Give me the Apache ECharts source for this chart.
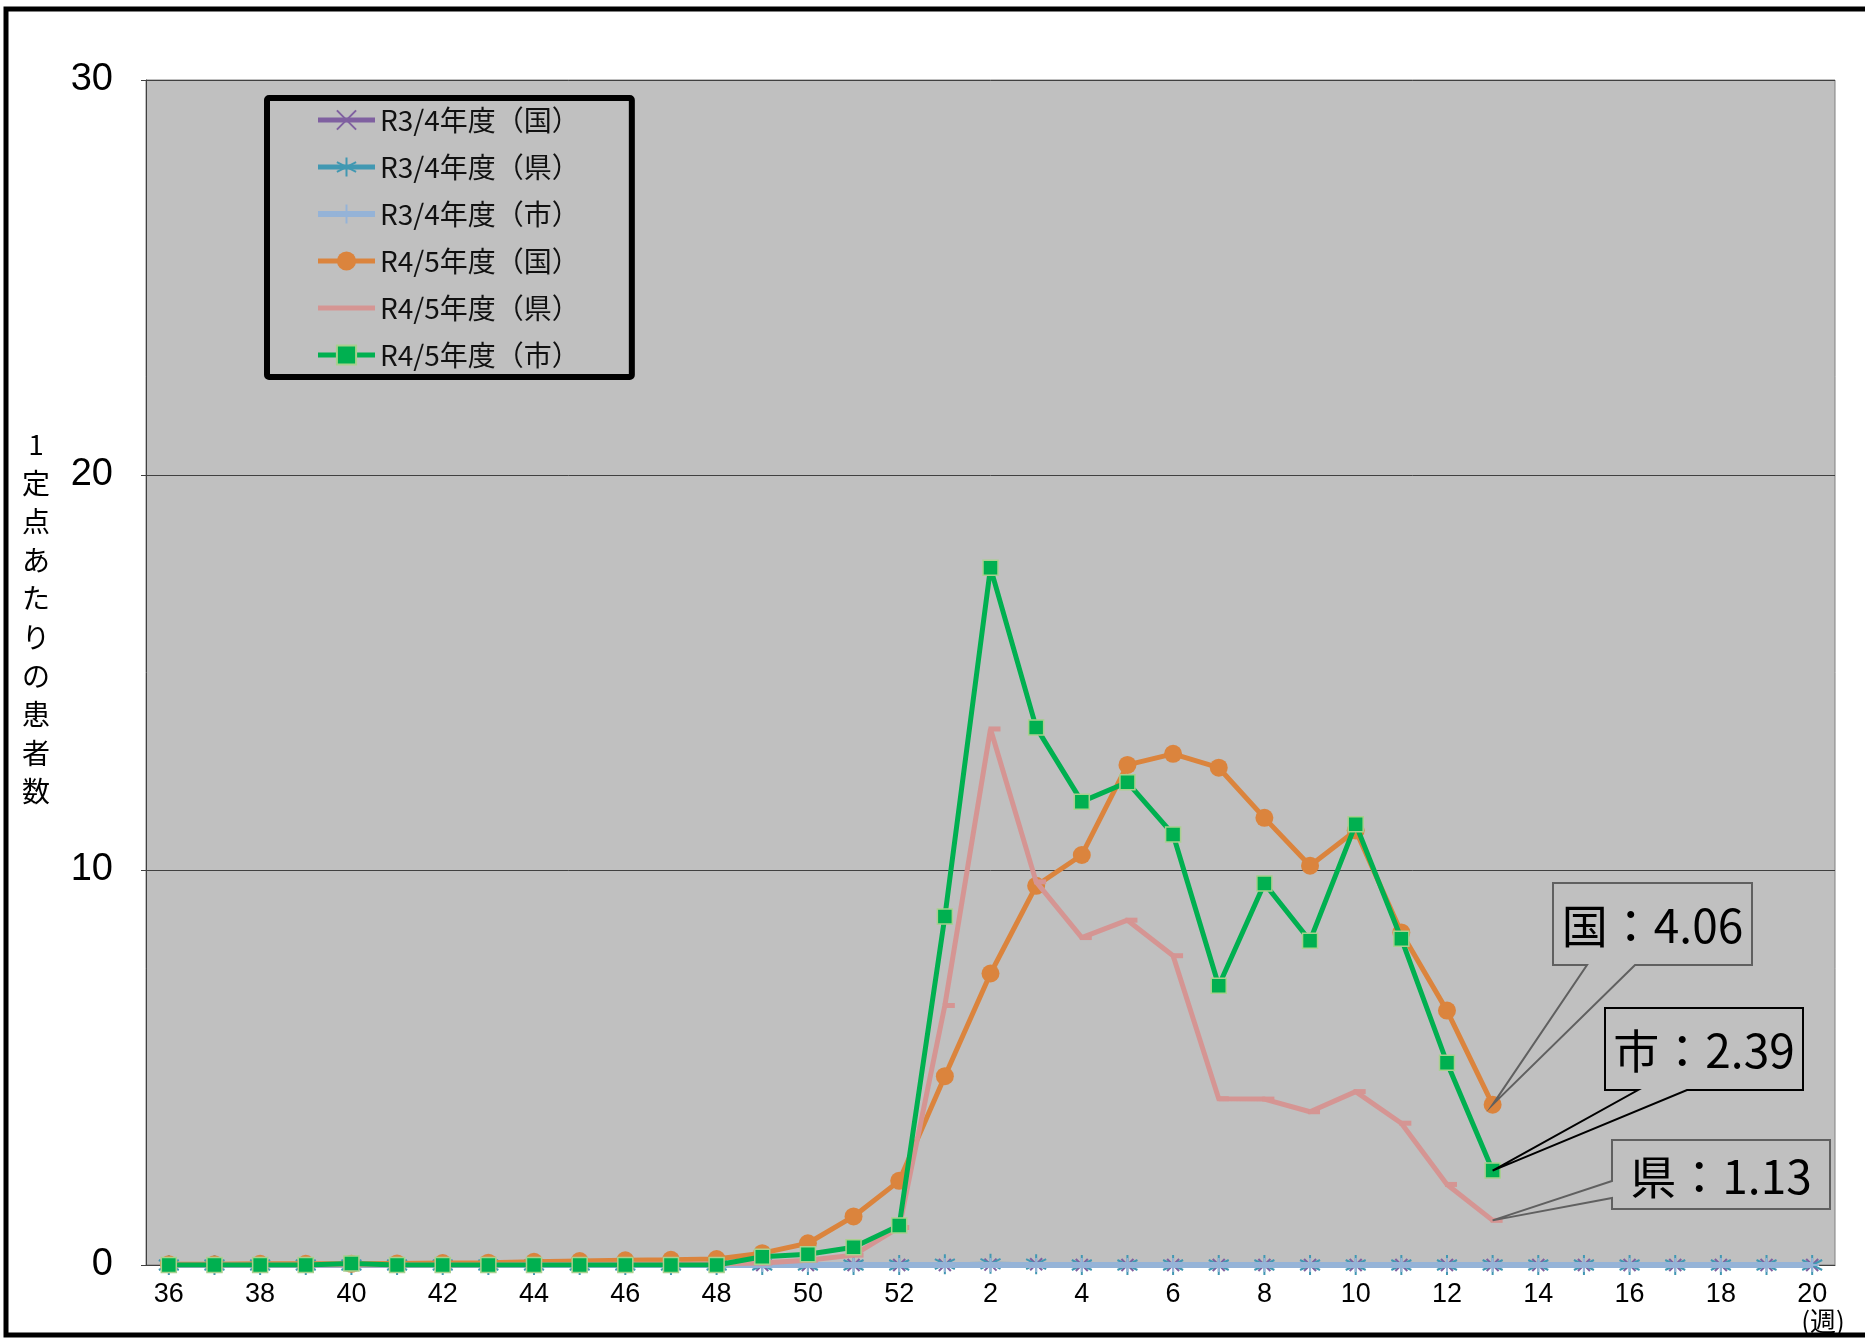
<!DOCTYPE html>
<html>
<head>
<meta charset="utf-8">
<script src="https://cdn.jsdelivr.net/npm/echarts@6/dist/echarts.min.js"></script>
<style>
html,body{margin:0;padding:0;background:#fff;}
#main{width:1865px;height:1338px;}
</style>
</head>
<body>
<div id="main"></div>
<script>
// 週 (36週〜翌年20週)
var weeks = ['36','37','38','39','40','41','42','43','44','45','46','47','48','49','50','51','52',
  '1','2','3','4','5','6','7','8','9','10','11','12','13','14','15','16','17','18','19','20'];

// R3/4年度: ほぼ 0
var national34 = [0,0,0,0,0,0,0,0,0,0,0,0,0,0,0,0,0, 0,0.01,0.02,0,0,0,0,0,0,0,0,0,0,0,0,0,0,0,0,0];
var pref34     = [0,0,0,0,0,0,0,0,0,0,0,0,0,0,0,0,0, 0.02,0.03,0.02,0,0,0,0,0,0,0,0,0,0,0,0,0,0,0,0,0];
var city34     = [0,0,0,0,0,0,0,0,0,0,0,0,0,0,0,0,0, 0,0,0,0,0,0,0,0,0,0,0,0,0,0,0,0,0,0,0,0];

// R4/5年度 (13週まで)
var national45 = [0.02,0.02,0.03,0.03,0.03,0.04,0.05,0.06,0.08,0.10,0.12,0.13,0.15,0.30,0.55,1.23,2.13,
  4.78,7.38,9.60,10.38,12.66,12.94,12.59,11.32,10.11,11.00,8.42,6.44,4.06,
  null,null,null,null,null,null,null];
var pref45 = [0,0,0,0,0,0,0,0,0.01,0.01,0.02,0.02,0.03,0.05,0.12,0.25,0.95,
  6.57,13.57,9.70,8.29,8.73,7.83,4.21,4.20,3.88,4.39,3.59,2.04,1.13,
  null,null,null,null,null,null,null];
var city45 = [0,0,0,0,0.04,0,0,0,0,0,0,0,0,0.21,0.27,0.45,1.00,
  8.82,17.65,13.61,11.73,12.22,10.90,7.07,9.66,8.21,11.16,8.26,5.12,2.39,
  null,null,null,null,null,null,null];

var names = ['R3/4年度（国）','R3/4年度（県）','R3/4年度（市）','R4/5年度（国）','R4/5年度（県）','R4/5年度（市）'];
var yTicks = [0, 10, 20, 30];

var jp = '"Noto Sans CJK JP", sans-serif';
var lastIdx = 29;

var chart = echarts.init(document.getElementById('main'));

var legendData = names.map(function (n, i) {
  var item = {name: n, lineStyle: {width: i === 2 ? 6 : 5}};
  if (i === 4) item.itemStyle = {opacity: 0};
  return item;
});

var option = {
  animation: false,
  backgroundColor: '#fff',
  grid: {
    left: 146, right: 30, top: 80, bottom: 73,
    show: true, backgroundColor: '#c0c0c0', borderColor: '#808080', borderWidth: 1,
    containLabel: false, outerBoundsMode: 'none'
  },
  legend: {
    orient: 'vertical',
    left: 267, top: 98,
    padding: [8, 52, 8, 48],
    itemWidth: 57, itemHeight: 24, itemGap: 19,
    backgroundColor: '#c0c0c0',
    borderColor: '#000', borderWidth: 6, borderRadius: 2,
    textStyle: {fontFamily: jp, fontSize: 28, lineHeight: 26, color: '#111'},
    data: legendData
  },
  xAxis: {
    type: 'category',
    data: weeks,
    boundaryGap: true,
    axisLine: {lineStyle: {color: '#404040', width: 1}},
    axisTick: {inside: true, length: 5, interval: 0, lineStyle: {color: '#404040'}},
    axisLabel: {
      interval: 1, margin: 16, color: '#000',
      fontFamily: '"Liberation Sans Narrow", "Liberation Sans", sans-serif', fontSize: 27
    },
    splitLine: {show: false}
  },
  yAxis: {
    type: 'value',
    min: yTicks[0], max: yTicks[yTicks.length - 1], interval: 10,
    axisLine: {show: true, lineStyle: {color: '#404040', width: 1}},
    axisTick: {show: true, length: 5, lineStyle: {color: '#404040'}},
    axisLabel: {margin: 33, color: '#000', fontFamily: '"Liberation Sans", Arial, sans-serif', fontSize: 38},
    splitLine: {lineStyle: {color: '#404040', width: 1}}
  },
  series: [
    {
      name: names[0], type: 'line', data: national34, color: '#7f60a0', z: 2,
      lineStyle: {width: 4},
      symbol: 'path://M0,0L10,10M0,10L10,0', symbolSize: 12,
      itemStyle: {color: '#7f60a0', borderColor: '#7f60a0', borderWidth: 2}
    },
    {
      name: names[1], type: 'line', data: pref34, color: '#4198b2', z: 2,
      lineStyle: {width: 4},
      symbol: 'path://M5,0L5,10M0.7,2.5L9.3,7.5M0.7,7.5L9.3,2.5', symbolSize: 20,
      itemStyle: {color: '#4198b2', borderColor: '#4198b2', borderWidth: 2}
    },
    {
      name: names[2], type: 'line', data: city34, color: '#95b3d7', z: 3,
      lineStyle: {width: 6},
      symbol: 'path://M5,0L5,10M0,5L10,5', symbolSize: 14,
      itemStyle: {color: '#95b3d7', borderColor: '#95b3d7', borderWidth: 2}
    },
    {
      name: names[3], type: 'line', data: national45, color: '#db843d', z: 5,
      lineStyle: {width: 5},
      symbol: 'circle', symbolSize: 18,
      itemStyle: {color: '#db843d', borderWidth: 0}
    },
    {
      name: names[4], type: 'line', data: pref45, color: '#d59593', z: 6,
      lineStyle: {width: 5},
      symbol: 'rect', symbolSize: [12, 5], symbolOffset: [4, 0],
      itemStyle: {color: '#d59593', borderWidth: 0}
    },
    {
      name: names[5], type: 'line', data: city45, color: '#00b050', z: 7,
      lineStyle: {width: 5},
      symbol: 'rect', symbolSize: 15,
      itemStyle: {color: '#00b050', borderColor: '#a9d08e', borderWidth: 1.5}
    }
  ]
};

chart.setOption(option);

// 吹き出し
function callout(seriesIndex, values, box, pts, stroke, label) {
  var tip = chart.convertToPixel({seriesIndex: seriesIndex}, [lastIdx, values[lastIdx]]);
  var x = box[0], y = box[1], w = box[2], h = box[3];
  var poly;
  if (pts.side === 'bottom') {
    poly = [[x, y], [x + w, y], [x + w, y + h], [pts.b, y + h], tip, [pts.a, y + h], [x, y + h]];
  } else {
    poly = [[x, y], [x + w, y], [x + w, y + h], [x, y + h], [x, pts.b], tip, [x, pts.a]];
  }
  return [
    {type: 'polygon', z: 100, shape: {points: poly},
     style: {fill: '#c0c0c0', stroke: stroke, lineWidth: 2}},
    {type: 'text', z: 101, x: x + w / 2, y: y + h / 2 + 2,
     style: {text: label + '：' + values[lastIdx].toFixed(2), fontFamily: jp, fontSize: 46,
             fill: '#000', align: 'center', verticalAlign: 'middle'}}
  ];
}

var g = [];
g = g.concat(callout(3, national45, [1553, 883, 199, 82], {side: 'bottom', a: 1587, b: 1635}, '#606060', '国'));
g = g.concat(callout(5, city45, [1605, 1008, 198, 82], {side: 'bottom', a: 1638, b: 1687}, '#000', '市'));
g = g.concat(callout(4, pref45, [1612, 1140, 218, 69], {side: 'left', a: 1181, b: 1198}, '#606060', '県'));

// 縦軸タイトル
g.push({type: 'text', x: 36, y: 425,
  style: {text: '1\n定\n点\nあ\nた\nり\nの\n患\n者\n数', fontFamily: jp, fontSize: 28, lineHeight: 38.6,
          fill: '#000', align: 'center'}});
// (週)
g.push({type: 'text', x: 1823, y: 1321,
  style: {text: '(週)', fontFamily: jp, fontSize: 26, fill: '#000', align: 'center', verticalAlign: 'middle'}});
// 外枠
g.push({type: 'rect', z: 120, shape: {x: 6, y: 9, width: 1900, height: 1326},
  style: {fill: 'none', stroke: '#000', lineWidth: 5}});

chart.setOption({graphic: g});
</script>
</body>
</html>
